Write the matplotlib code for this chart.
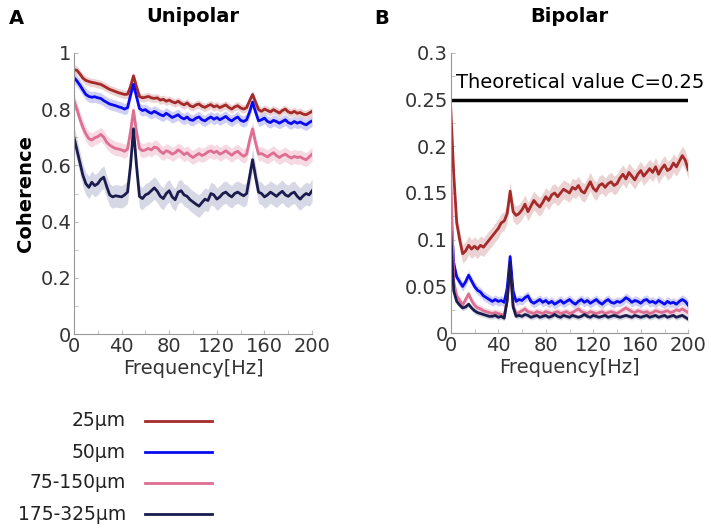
import numpy as np
import matplotlib
matplotlib.use("Agg")
import matplotlib.pyplot as plt
from matplotlib.lines import Line2D

plt.rcParams["font.family"] = ["DejaVu Sans"]

# ── data ────────────────────────────────────────────────────────
FREQ = np.arange(0, 200.1, 2.5)

LABELS = ["25μm", "50μm", "75-150μm", "175-325μm"]
COLORS = ["#a52a2a", "#0a0af0", "#de6f92", "#1b1b4d"]
BAND_COLORS = ["#e8c8c8", "#c4c4f4", "#f4d0dc", "#cdcfdf"]

UNI_25 = [.940, .938, .925, .910, .902, .898, .895, .893, .890, .888,
          .882, .876, .870, .866, .862, .858, .855, .852, .853, .880,
          .918, .880, .845, .840, .842, .845, .840, .838, .840, .832,
          .835, .828, .832, .826, .822, .828, .820, .815, .822, .812,
          .808, .815, .818, .810, .806, .812, .816, .808, .812, .805,
          .810, .815, .806, .800, .808, .812, .804, .800, .805, .830,
          .852, .825, .798, .792, .800, .795, .790, .798, .792, .786,
          .795, .800, .790, .786, .792, .785, .788, .782, .780, .786, .792]
UNI_50 = [.912, .900, .885, .868, .852, .845, .842, .844, .840, .838,
          .830, .824, .818, .815, .812, .808, .805, .800, .805, .850,
          .888, .845, .802, .795, .798, .790, .785, .792, .786, .780,
          .776, .785, .778, .770, .775, .780, .770, .765, .772, .762,
          .760, .768, .772, .762, .758, .766, .772, .764, .770, .762,
          .768, .774, .764, .758, .766, .772, .760, .756, .762, .790,
          .825, .790, .758, .762, .768, .756, .752, .760, .756, .750,
          .756, .762, .752, .748, .756, .750, .754, .748, .744, .752, .758]
UNI_75 = [.830, .800, .765, .735, .712, .695, .690, .698, .702, .710,
          .700, .682, .672, .665, .660, .658, .655, .650, .658, .720,
          .795, .720, .660, .652, .655, .660, .655, .665, .662, .650,
          .642, .652, .648, .640, .645, .655, .648, .638, .645, .635,
          .628, .636, .642, .635, .640, .648, .652, .645, .650, .640,
          .645, .652, .644, .636, .645, .650, .640, .632, .640, .690,
          .730, .680, .640, .642, .636, .630, .638, .645, .635, .628,
          .635, .640, .632, .626, .632, .628, .630, .624, .620, .630, .640]
UNI_175 = [.700, .655, .610, .565, .535, .522, .540, .528, .535, .550,
           .558, .525, .495, .488, .492, .490, .488, .495, .505, .600,
           .730, .600, .490, .482, .495, .500, .510, .520, .508, .490,
           .482, .500, .510, .488, .478, .505, .510, .495, .490, .478,
           .470, .462, .455, .468, .480, .475, .500, .495, .480, .488,
           .500, .505, .495, .488, .500, .505, .498, .492, .500, .560,
           .620, .560, .505, .500, .488, .495, .505, .498, .490, .500,
           .508, .495, .490, .500, .505, .490, .480, .492, .500, .495, .510]

BI_25 = [.240, .170, .118, .100, .085, .088, .094, .090, .093, .090,
         .094, .092, .096, .100, .104, .108, .112, .118, .120, .128,
         .152, .130, .126, .128, .132, .138, .130, .136, .142, .138,
         .135, .140, .146, .142, .148, .150, .146, .150, .154, .152,
         .150, .156, .154, .158, .152, .150, .156, .162, .155, .152,
         .158, .160, .156, .160, .162, .158, .160, .166, .170, .165,
         .172, .168, .164, .170, .174, .168, .172, .176, .172, .178,
         .170, .176, .180, .174, .176, .182, .178, .184, .190, .185, .175]
BI_50 = [.130, .075, .060, .055, .050, .055, .062, .056, .050, .046,
         .044, .040, .038, .036, .034, .036, .034, .035, .033, .048,
         .082, .045, .034, .036, .035, .038, .040, .034, .032, .034,
         .036, .033, .035, .032, .034, .031, .033, .035, .032, .034,
         .036, .033, .031, .034, .036, .033, .035, .032, .034, .036,
         .033, .031, .034, .036, .033, .032, .034, .033, .035, .038,
         .036, .033, .035, .034, .032, .035, .036, .033, .034, .032,
         .035, .033, .031, .034, .032, .033, .031, .034, .036, .034, .030]
BI_75 = [.170, .055, .040, .035, .030, .036, .042, .035, .030, .027,
         .026, .024, .023, .022, .021, .022, .021, .020, .019, .035,
         .070, .030, .021, .022, .024, .026, .023, .022, .021, .023,
         .022, .021, .023, .022, .021, .022, .023, .021, .022, .023,
         .021, .022, .024, .026, .023, .022, .021, .023, .022, .021,
         .022, .023, .021, .022, .023, .022, .021, .023, .025, .027,
         .025, .023, .022, .024, .023, .022, .023, .021, .022, .024,
         .023, .022, .023, .024, .022, .023, .025, .024, .026, .024, .022]
BI_175 = [.108, .045, .034, .030, .027, .028, .031, .027, .024, .022,
          .021, .020, .019, .018, .018, .019, .017, .018, .016, .035,
          .075, .028, .018, .019, .018, .020, .019, .017, .018, .019,
          .017, .018, .019, .017, .018, .020, .018, .017, .019, .018,
          .017, .019, .018, .017, .018, .020, .018, .017, .019, .018,
          .017, .018, .019, .017, .018, .019, .018, .017, .018, .019,
          .018, .017, .019, .018, .017, .018, .019, .017, .018, .019,
          .017, .018, .019, .017, .018, .019, .017, .018, .019, .017, .015]

UNI = [UNI_25, UNI_50, UNI_75, UNI_175]
BI = [BI_25, BI_50, BI_75, BI_175]
UNI_SPREAD = [0.015, 0.02, 0.025, 0.04]
BI_SPREAD = [0.010, 0.005, 0.004, 0.003]
THEORETICAL = 0.25

FS = 14


def style_axes(ax, ymax, yticks, yticklabels):
    for side in ("top", "right"):
        ax.spines[side].set_visible(False)
    for side in ("left", "bottom"):
        ax.spines[side].set_color("#999999")
    ax.set_xlim(0, 200)
    ax.set_ylim(0, ymax)
    ax.set_xticks([0, 40, 80, 120, 160, 200])
    ax.set_xticks(np.arange(0, 201, 20), minor=True)
    ax.set_yticks(yticks)
    ax.set_yticklabels(yticklabels)
    ax.tick_params(which="both", direction="in", length=3, color="#bbbbbb",
                   labelsize=FS, labelcolor="#333333", pad=2)
    ax.set_xlabel("Frequency[Hz]", fontsize=FS, color="#333333", labelpad=2)


fig = plt.figure(figsize=(7.11, 5.28), dpi=100)
ax_a = fig.add_axes([0.104, 0.367, 0.335, 0.533])
ax_b = fig.add_axes([0.634, 0.369, 0.334, 0.531])

for vals, sp, c, bc in zip(UNI, UNI_SPREAD, COLORS, BAND_COLORS):
    v = np.array(vals)
    ax_a.fill_between(FREQ, v - sp, v + sp, color=bc, lw=0, alpha=0.8)
    ax_a.plot(FREQ, v, color=c, lw=2)

for vals, sp, c, bc in zip(BI, BI_SPREAD, COLORS, BAND_COLORS):
    v = np.array(vals)
    ax_b.fill_between(FREQ, v - sp, v + sp, color=bc, lw=0, alpha=0.8)
    ax_b.plot(FREQ, v, color=c, lw=2)

ax_b.plot([0, 200], [THEORETICAL, THEORETICAL], color="black", lw=2.5)
ax_b.text(4, 0.258, "Theoretical value C=0.25", fontsize=FS, va="bottom")

style_axes(ax_a, 1.0, [0, 0.2, 0.4, 0.6, 0.8, 1.0],
           ["0", "0.2", "0.4", "0.6", "0.8", "1"])
ax_a.set_yticks(np.arange(0, 1.01, 0.1), minor=True)
ax_a.set_ylabel("Coherence", fontsize=FS, fontweight="bold")
style_axes(ax_b, 0.3, [0, 0.05, 0.1, 0.15, 0.2, 0.25, 0.3],
           ["0", "0.05", "0.1", "0.15", "0.2", "0.25", "0.3"])
ax_b.set_yticks(np.arange(0, 0.301, 0.025), minor=True)

ax_a.set_title("Unipolar", fontsize=FS, fontweight="bold", pad=22)
ax_b.set_title("Bipolar", fontsize=FS, fontweight="bold", pad=22)
fig.text(0.012, 0.965, "A", fontsize=FS, fontweight="bold", va="center")
fig.text(0.526, 0.965, "B", fontsize=FS, fontweight="bold", va="center")

# legend: labels right-aligned to the left of the line samples
W, H = 711, 528
for i, (lab, c) in enumerate(zip(LABELS, COLORS)):
    y = 1 - (421 + i * 31) / H
    fig.text(126 / W, y, lab, fontsize=13.5, ha="right", va="center",
             color="#222222")
    fig.add_artist(Line2D([145 / W, 212 / W], [y, y], color=c, lw=2,
                          transform=fig.transFigure))

fig.savefig("out.png", dpi=100)
